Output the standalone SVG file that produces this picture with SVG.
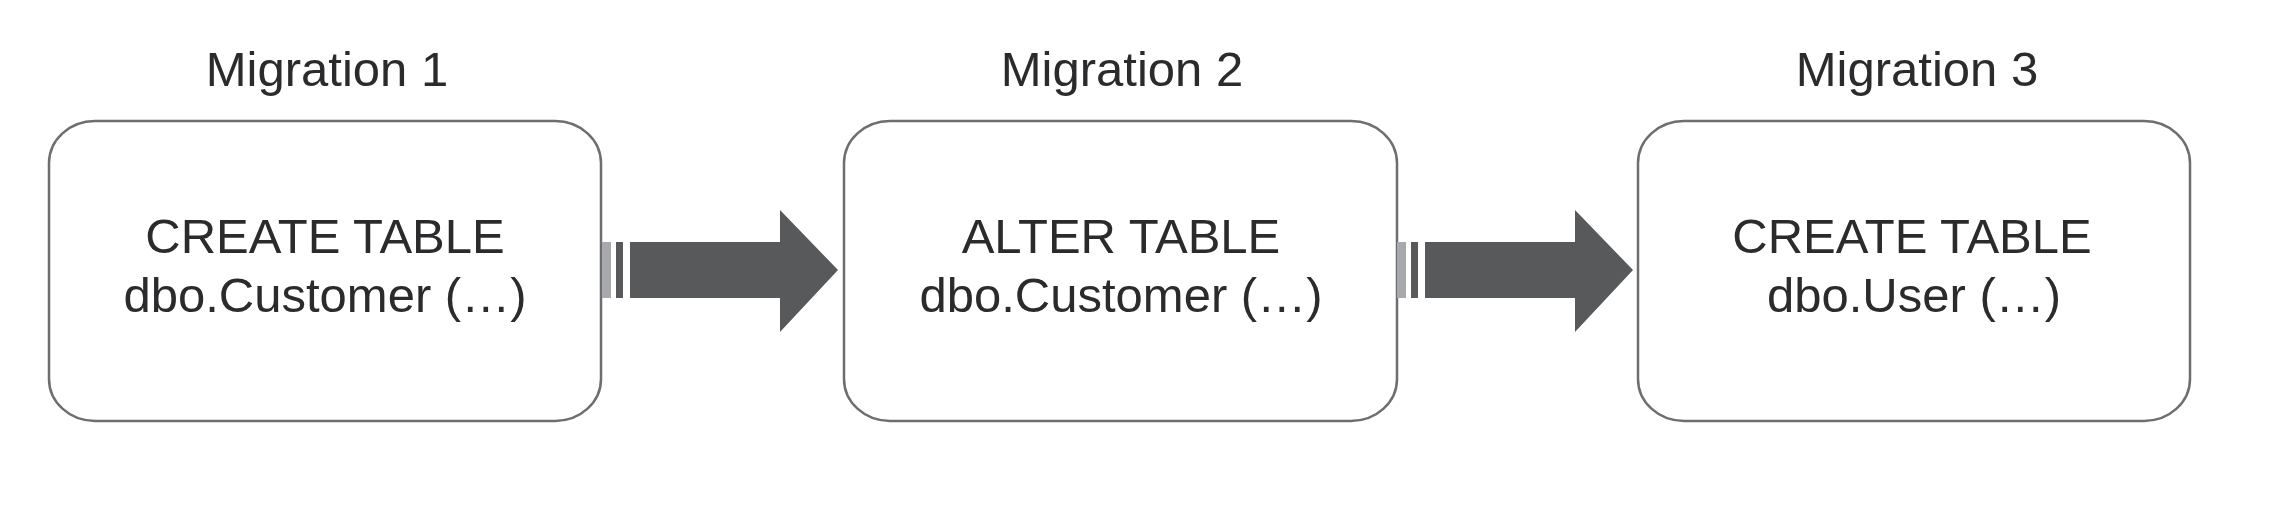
<svg xmlns="http://www.w3.org/2000/svg" width="2270" height="530" viewBox="0 0 2270 530">
<style>
.box{fill:#fff;stroke:#6d6e71;stroke-width:2.5}
.t{font-family:"Liberation Sans",Arial,sans-serif;font-size:49px;fill:#2b2b2d;text-anchor:middle}
.sh{fill:#58595b}
.lt{fill:#a7a9ac}
</style>
<defs>
<g id="arrow">
<rect class="lt" x="602" y="242" width="9" height="56"/>
<rect class="sh" x="616" y="242" width="7" height="56"/>
<polygon class="sh" points="630,242 780,242 780,210 838,270 780,332 780,298 630,298"/>
</g>
</defs>
<rect width="2270" height="530" fill="#fff"/>
<g id="node1">
<text class="t" x="327" y="86">Migration 1</text>
<rect class="box" x="49" y="121" width="552" height="300" rx="46" ry="42"/>
<text class="t" x="325" y="253">CREATE TABLE</text>
<text class="t" x="325" y="312">dbo.Customer (…)</text>
</g>
<g id="node2">
<text class="t" x="1122" y="86">Migration 2</text>
<rect class="box" x="844" y="121" width="553" height="300" rx="46" ry="42"/>
<text class="t" x="1121" y="253">ALTER TABLE</text>
<text class="t" x="1121" y="312">dbo.Customer (…)</text>
</g>
<g id="node3">
<text class="t" x="1917" y="86">Migration 3</text>
<rect class="box" x="1638" y="121" width="552" height="300" rx="46" ry="42"/>
<text class="t" x="1912" y="253">CREATE TABLE</text>
<text class="t" x="1914" y="312">dbo.User (…)</text>
</g>
<g id="connectors">
<use href="#arrow"/>
<use href="#arrow" transform="translate(795,0)"/>
</g>
</svg>
